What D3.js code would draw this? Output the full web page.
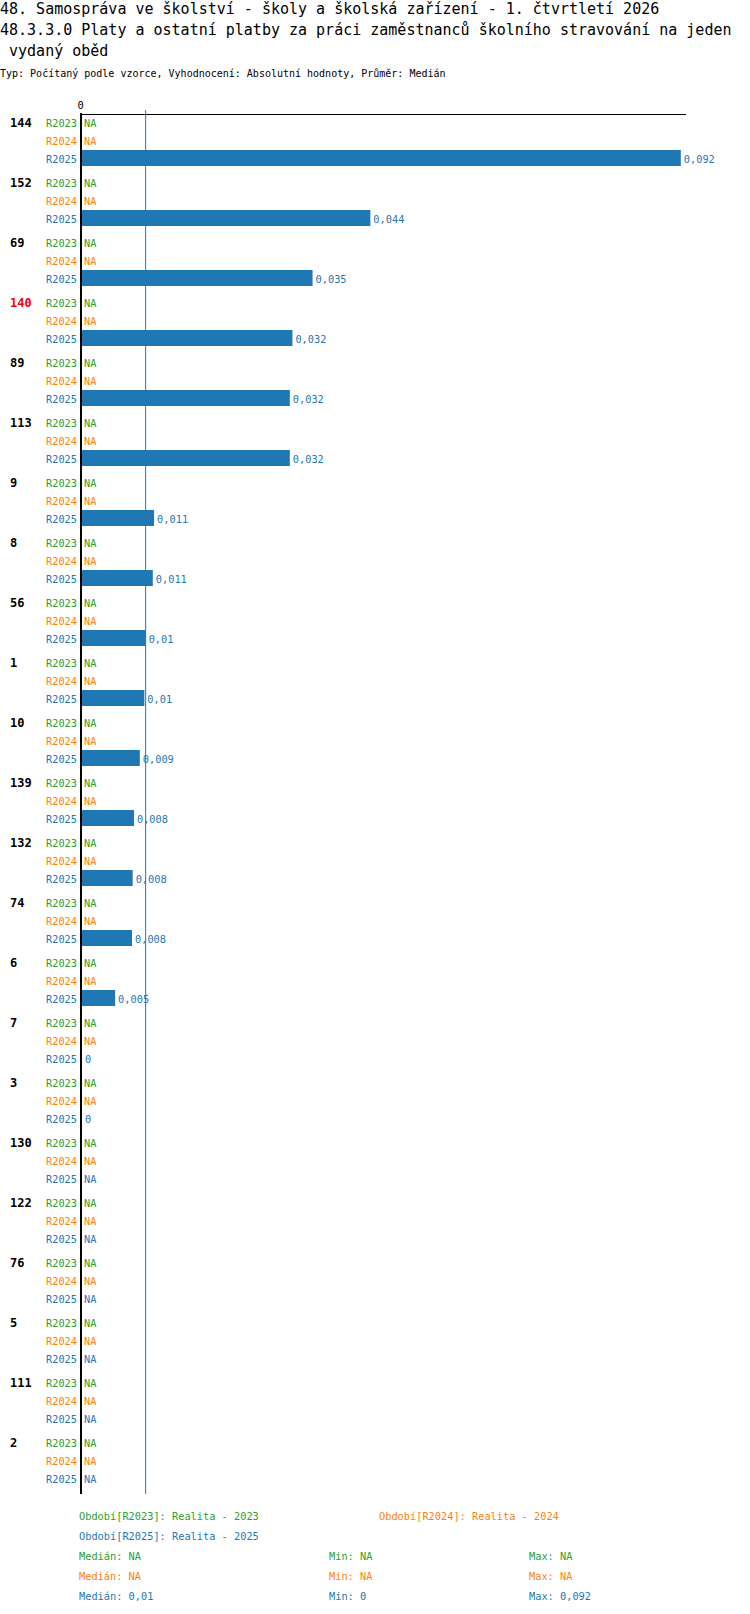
<!DOCTYPE html>
<html>
<head>
<meta charset="utf-8">
<script src="https://cdn.jsdelivr.net/npm/d3@7"></script>
<style>
  body { margin: 0; background: #fff; }
  text { font-family: "DejaVu Sans Mono", monospace; }
</style>
</head>
<body>
<script>
// chart data
const titleLines = [
  '48. Samospráva ve školství - školy a školská zařízení - 1. čtvrtletí 2026',
  '48.3.3.0 Platy a ostatní platby za práci zaměstnanců školního stravování na jeden',
  ' vydaný oběd'
];
const subtitle = 'Typ: Počítaný podle vzorce, Vyhodnocení: Absolutní hodnoty, Průměr: Medián';

const groups = ['144', '152', '69', '140', '89', '113', '9', '8', '56', '1', '10', '139',
                '132', '74', '6', '7', '3', '130', '122', '76', '5', '111', '2'];
const highlighted = ['140'];

const seriesNames = ['R2023', 'R2024', 'R2025'];
const seriesLabels = ['Realita - 2023', 'Realita - 2024', 'Realita - 2025'];
const seriesColors = ['#2ca02c', '#ff7f0e', '#1f77b4'];

const r2023 = [null, null, null, null, null, null, null, null, null, null, null, null,
               null, null, null, null, null, null, null, null, null, null, null];
const r2024 = [null, null, null, null, null, null, null, null, null, null, null, null,
               null, null, null, null, null, null, null, null, null, null, null];
const r2025 = [0.0922, 0.0444, 0.0355, 0.0324, 0.0320, 0.0320, 0.0111, 0.0109, 0.0098, 0.0096, 0.0089, 0.0080,
               0.0078, 0.0077, 0.0051, 0, 0, null, null, null, null, null, null];
const seriesValues = [r2023, r2024, r2025];

const xTicks = [0];

// ---------------------------------------------------------------
const W = 750, H = 1614;
const svg = d3.select('body').append('svg').attr('width', W).attr('height', H);

const fmt = v => v == null ? 'NA' : (+v.toFixed(3)).toString().replace('.', ',');

// titles
svg.selectAll('text.title').data(titleLines).enter().append('text')
  .attr('class', 'title')
  .attr('x', 0)
  .attr('y', (d, i) => 9 + i * 21)
  .attr('dy', '0.35em')
  .attr('font-size', '15px')
  .attr('fill', '#000')
  .style('white-space', 'pre')
  .text(d => d);

svg.append('text')
  .attr('x', 0).attr('y', 73).attr('dy', '0.35em')
  .attr('font-size', '10px')
  .attr('fill', '#000')
  .text(subtitle);

// scales
const x = d3.scaleLinear().domain([0, 0.093]).range([82, 686]);
const y = d3.scaleBand().domain(groups).range([114, 1494]);
const yInner = d3.scaleBand().domain(seriesNames).range([0, 54]);

// median line of the shown series
const shown = r2025.filter(v => v != null);
const med = d3.median(shown);

svg.append('line')
  .attr('x1', x(med)).attr('x2', x(med))
  .attr('y1', 110).attr('y2', 1494)
  .attr('stroke', '#1f77b4').attr('stroke-width', 1);

// top axis
const axis = svg.append('g')
  .attr('transform', 'translate(0,114.5)')
  .call(d3.axisTop(x).tickValues(xTicks).tickSize(0).tickSizeOuter(0).tickPadding(6)
    .tickFormat(d => d));
axis.select('.domain').attr('stroke', '#000').attr('d', `M80,0H${x.range()[1]}`);
axis.selectAll('text')
  .attr('x', -2)
  .attr('font-family', '"DejaVu Sans Mono", monospace')
  .attr('font-size', '10.3px')
  .attr('fill', '#000');

// rows
const rows = [];
groups.forEach((g, gi) => {
  seriesNames.forEach((s, si) => {
    rows.push({ group: g, series: s, color: seriesColors[si], value: seriesValues[si][gi] });
  });
});

const gGroups = svg.selectAll('g.grp').data(groups).enter().append('g')
  .attr('class', 'grp')
  .attr('transform', d => `translate(0,${y(d)})`);

gGroups.append('text')
  .attr('x', 10).attr('y', yInner('R2023') + yInner.bandwidth() / 2).attr('dy', '0.35em')
  .attr('font-size', '12px').attr('font-weight', 'bold')
  .attr('fill', d => highlighted.includes(d) ? '#ff0000' : '#000')
  .text(d => d);

const rowG = svg.selectAll('g.row').data(rows).enter().append('g')
  .attr('class', 'row')
  .attr('transform', d => `translate(0,${y(d.group) + yInner(d.series)})`);

rowG.filter(d => d.value != null && d.value > 0).append('rect')
  .attr('x', x(0))
  .attr('y', 0)
  .attr('width', d => x(d.value) - x(0))
  .attr('height', 16)
  .attr('fill', d => d.color);

rowG.append('text')
  .attr('x', 77).attr('y', yInner.bandwidth() / 2).attr('dy', '0.35em')
  .attr('text-anchor', 'end')
  .attr('font-size', '10.3px')
  .attr('fill', d => d.color)
  .text(d => d.series);

rowG.append('text')
  .attr('x', d => d.value == null ? 84 : x(d.value) + 3)
  .attr('y', yInner.bandwidth() / 2).attr('dy', '0.35em')
  .attr('font-size', '10.3px')
  .attr('fill', d => d.color)
  .text(d => fmt(d.value));

// thick zero line
svg.append('line')
  .attr('x1', 81).attr('x2', 81)
  .attr('y1', 113).attr('y2', 1494)
  .attr('stroke', '#000').attr('stroke-width', 2);

// legend
const legendPos = [[79, 1516], [379, 1516], [79, 1536]];
seriesNames.forEach((s, i) => {
  svg.append('text')
    .attr('x', legendPos[i][0]).attr('y', legendPos[i][1]).attr('dy', '0.35em')
    .attr('font-size', '10.3px').attr('fill', seriesColors[i])
    .text(`Období[${s}]: ${seriesLabels[i]}`);
});

seriesValues.forEach((vals, i) => {
  const v = vals.filter(d => d != null);
  const yy = 1556 + i * 20;
  const stats = [
    [79, 'Medián: ' + (v.length ? fmt(d3.median(v)) : 'NA')],
    [329, 'Min: ' + (v.length ? fmt(d3.min(v)) : 'NA')],
    [529, 'Max: ' + (v.length ? fmt(d3.max(v)) : 'NA')]
  ];
  stats.forEach(s => {
    svg.append('text')
      .attr('x', s[0]).attr('y', yy).attr('dy', '0.35em')
      .attr('font-size', '10.3px').attr('fill', seriesColors[i])
      .text(s[1]);
  });
});
</script>
</body>
</html>
